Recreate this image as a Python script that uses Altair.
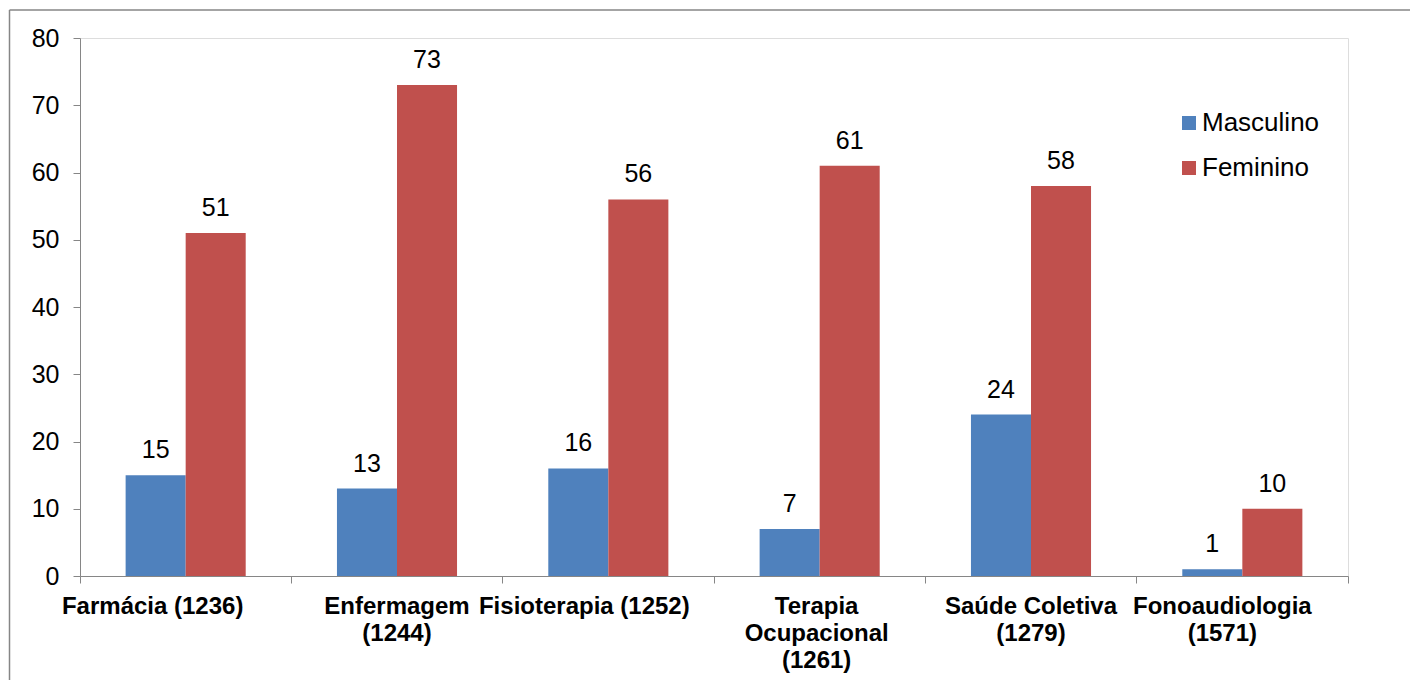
import altair as alt
import pandas as pd

categories = ["Farmácia (1236)", "Enfermagem (1244)", "Fisioterapia (1252)",
              "Terapia Ocupacional (1261)", "Saúde Coletiva (1279)", "Fonoaudiologia (1571)"]
label_lines = [["Farmácia (1236)"], ["Enfermagem", "(1244)"], ["Fisioterapia (1252)"],
               ["Terapia", "Ocupacional", "(1261)"], ["Saúde Coletiva", "(1279)"],
               ["Fonoaudiologia", "(1571)"]]
series = ["Masculino", "Feminino"]
masculino = [15, 13, 16, 7, 24, 1]
feminino = [51, 73, 56, 61, 58, 10]
colors = ["#4F81BD", "#C0504D"]

rows = []
for c, m, f in zip(categories, masculino, feminino):
    rows.append({"curso": c, "sexo": "Masculino", "valor": m})
    rows.append({"curso": c, "sexo": "Feminino", "valor": f})
df = pd.DataFrame(rows)

W, H = 1268, 538
FONT = "Liberation Sans"
GRAY = "#868686"

# horizontal nudges of the category labels (style only, as in the original layout)
label_nudge = {"Farmácia (1236)": -33, "Fisioterapia (1252)": -24,
               "Fonoaudiologia (1571)": -20, "Terapia Ocupacional (1261)": -3}

label_map = "{" + ", ".join(
    "'" + c + "': [" + ", ".join("'" + s + "'" for s in ls) + "]"
    for c, ls in zip(categories, label_lines)) + "}"

label_offset = {
    "condition": [{"test": "datum.value == '" + k + "'", "value": v}
                  for k, v in label_nudge.items()],
    "value": 0,
}

x = alt.X("curso:N", sort=categories, title=None,
          scale=alt.Scale(paddingInner=0, paddingOuter=0),
          axis=alt.Axis(labelAngle=0, bandPosition=1, tickExtra=True,
                        labelExpr=label_map + "[datum.label]",
                        labelOffset=label_offset,
                        labelFont=FONT, labelFontSize=24, labelFontWeight="bold",
                        labelColor="black", labelLineHeight=27, labelPadding=11,
                        labelBaseline="top", labelLimit=0,
                        domainColor=GRAY, tickColor=GRAY, tickSize=7,
                        labelOverlap=False, labelBound=False))
xo = alt.XOffset("sexo:N", sort=series,
                 scale=alt.Scale(paddingInner=0, paddingOuter=0.76))
y = alt.Y("valor:Q", title=None,
          scale=alt.Scale(domain=[0, 80], nice=False),
          axis=alt.Axis(values=list(range(0, 81, 10)), grid=False,
                        labelFont=FONT, labelFontSize=25, labelColor="black",
                        labelPadding=14, domainColor=GRAY, tickColor=GRAY,
                        tickSize=7))
color = alt.Color("sexo:N", sort=series,
                  scale=alt.Scale(domain=series, range=colors),
                  legend=alt.Legend(title=None, orient="none", legendX=1096,
                                    legendY=72, symbolType="square",
                                    symbolSize=196, symbolStrokeWidth=0,
                                    labelFont=FONT, labelFontSize=26,
                                    labelColor="black", rowPadding=19,
                                    labelOffset=0))

bars = alt.Chart(df).mark_bar().encode(x=x, xOffset=xo, y=y, color=color)
texts = alt.Chart(df).mark_text(baseline="bottom", dy=-12, font=FONT,
                                fontSize=25, color="black").encode(
    x=x, xOffset=xo, y=y, text="valor:Q")

border = pd.DataFrame({"k": [0]})
left_line = alt.Chart(border).mark_rule(color=GRAY, strokeWidth=1.5).encode(
    x=alt.value(-70.5), y=alt.value(-28), y2=alt.value(H + 120))
top_line = alt.Chart(border).mark_rule(color=GRAY, strokeWidth=1.5).encode(
    x=alt.value(-70.5), x2=alt.value(W + 100), y=alt.value(-28))

chart = alt.layer(bars, texts, left_line, top_line).properties(
    width=W, height=H,
    autosize=alt.AutoSizeParams(type="none"),
    padding={"left": 72, "top": 30, "right": 62, "bottom": 104},
).configure_view(stroke=None).configure(background="white")

chart.save("out.html", embed_options={"renderer": "svg", "actions": False})
